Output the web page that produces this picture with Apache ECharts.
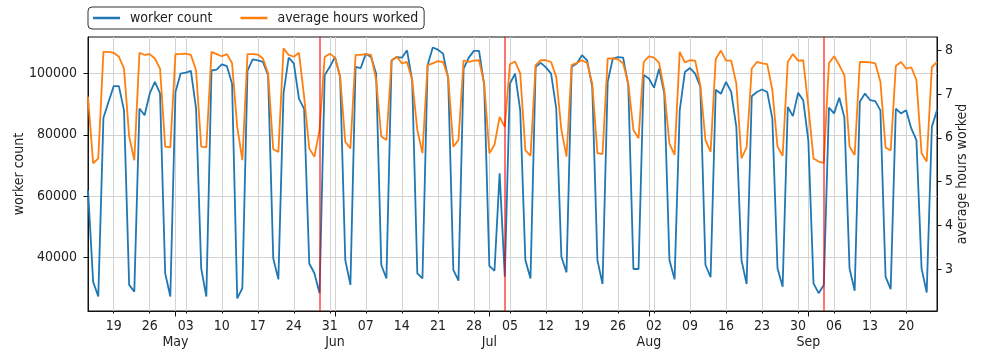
<!DOCTYPE html>
<html><head><meta charset="utf-8">
<script src="https://cdn.jsdelivr.net/npm/echarts@6/dist/echarts.min.js"></script>
<style>html,body{margin:0;padding:0;background:#fff}#c{width:984px;height:352px}</style>
</head><body><div id="c"></div>
<script>
// ---- data (daily, 2017-04-14 .. 2017-09-26) ----
const startDate = '2017-04-14';
const dayCount = 166;
const workerCount = [
 62000,32000,27200,85600,90800,95900,95900,88000,31000,28800,
 88600,86400,93500,97300,93500,34800,27200,94000,100000,100300,
 100900,88600,36400,27200,101000,101300,103000,102400,96700,26600,
 29900,101000,104600,104300,103800,99500,39700,32800,93500,105200,
 103300,91800,88500,38000,34800,28300,99500,102200,105400,98900,
 39100,31000,102200,101800,106500,105400,100000,37500,33100,104300,
 105400,105200,107600,97800,34800,33100,102700,108500,107800,106500,
 98400,35900,32400,101600,105200,107400,107400,96200,37200,35600,
 67400,33700,96700,100000,88000,39100,33100,102200,103500,102000,
 100000,88600,40200,35100,102200,103300,106000,104300,95700,39100,
 31300,97300,104900,105400,105200,96200,36200,36200,99500,98400,
 95400,101600,93500,39100,32800,88000,100500,101800,100000,95700,
 37500,33500,94700,93400,97300,94000,82600,39100,31300,92600,
 94000,94800,94000,85300,36400,30400,89100,86100,93700,91300,
 78000,31500,28300,31000,88900,87000,92100,85700,36400,29100,
 90800,93500,91300,91000,88000,33700,29600,88500,87000,88000,
 82100,78300,36400,28500,82600,88000
];
const avgHours = [
 6.94,5.42,5.53,7.96,7.96,7.94,7.85,7.58,6.03,5.49,
 7.94,7.89,7.91,7.81,7.58,5.80,5.78,7.91,7.91,7.92,
 7.89,7.54,5.80,5.78,7.96,7.91,7.86,7.91,7.70,6.25,
 5.49,7.91,7.91,7.90,7.81,7.47,5.74,5.68,8.04,7.89,
 7.85,7.94,6.94,5.76,5.57,6.18,7.85,7.92,7.83,7.39,
 5.91,5.76,7.89,7.89,7.91,7.89,7.32,6.03,5.95,7.77,
 7.85,7.70,7.73,7.32,6.18,5.65,7.66,7.70,7.75,7.73,
 7.39,5.80,5.95,7.77,7.73,7.76,7.77,7.24,5.65,5.84,
 6.48,6.25,7.68,7.74,7.47,5.72,5.59,7.66,7.77,7.77,
 7.73,7.39,6.18,5.57,7.66,7.71,7.77,7.71,7.24,5.65,
 5.63,7.81,7.81,7.79,7.70,7.24,6.18,5.99,7.73,7.86,
 7.83,7.71,7.09,5.87,5.61,7.96,7.72,7.77,7.76,7.20,
 5.95,5.68,7.80,7.99,7.76,7.76,7.24,5.53,5.78,7.58,
 7.73,7.70,7.68,7.09,5.80,5.59,7.73,7.91,7.76,7.77,
 6.71,5.53,5.46,5.43,7.70,7.86,7.66,7.43,5.80,5.61,
 7.73,7.73,7.72,7.70,7.28,5.78,5.71,7.64,7.73,7.58,
 7.61,7.32,5.65,5.46,7.61,7.73
];
const holidays = ['2017-05-29', '2017-07-04', '2017-09-04'];
const monthNames = ['Jan','Feb','Mar','Apr','May','Jun','Jul','Aug','Sep','Oct','Nov','Dec'];
const leftTicks = [40000, 60000, 80000, 100000];
const rightTicks = [3, 4, 5, 6, 7, 8];
const seriesNames = ['worker count', 'average hours worked'];

// ---- categories ----
const dates = [];
const t0 = Date.parse(startDate + 'T00:00:00Z');
for (let i = 0; i < dayCount; i++) dates.push(new Date(t0 + i * 86400000).toISOString().slice(0, 10));
const isWeek = (i) => new Date(dates[i] + 'T00:00:00Z').getUTCDay() === 3;
const isMonth = (i) => dates[i].slice(8) === '01';

const FONT = "'DejaVu Sans Condensed', 'DejaVu Sans', sans-serif";
const TXT = '#222';

const chart = echarts.init(document.getElementById('c'), null, {renderer: 'canvas'});
chart.setOption({
  animation: false,
  backgroundColor: '#fff',
  textStyle: {fontFamily: FONT},
  legend: {
    left: 88, top: 7,
    orient: 'horizontal',
    borderColor: '#333', borderWidth: 1, borderRadius: 4,
    padding: [4, 6, 4, 5],
    itemWidth: 27, itemHeight: 2.5, itemGap: 28,
    icon: 'rect',
    textStyle: {fontFamily: FONT, fontSize: 14, color: TXT, padding: [0, 0, 0, 5]},
    data: seriesNames
  },
  grid: {left: 88, right: 47, top: 37, bottom: 41, show: true, borderColor: '#111', borderWidth: 1,
         containLabel: false, outerBoundsMode: 'none'},
  xAxis: [{
    type: 'category', data: dates, boundaryGap: false, position: 'bottom',
    axisLine: {show: true, lineStyle: {color: '#111', width: 1}},
    axisTick: {show: true, interval: (i) => isWeek(i), length: 2.5, lineStyle: {color: '#111'}},
    axisLabel: {interval: (i) => isWeek(i), formatter: (v) => v.slice(8), margin: 8, fontSize: 14, color: TXT, fontFamily: FONT},
    splitLine: {show: true, interval: (i) => isWeek(i) || isMonth(i), lineStyle: {color: '#d3d3d3', width: 1}}
  }, {
    type: 'category', data: dates, boundaryGap: false, position: 'bottom',
    axisLine: {show: false},
    axisTick: {show: true, interval: (i) => isMonth(i), length: 5.5, lineStyle: {color: '#111'}},
    axisLabel: {interval: (i) => isMonth(i), formatter: (v) => monthNames[parseInt(v.slice(5, 7), 10) - 1], margin: 24, fontSize: 14, color: TXT, fontFamily: FONT},
    splitLine: {show: false}
  }],
  yAxis: [{
    type: 'value', position: 'left', min: 22480, max: 111940,
    name: 'worker count', nameLocation: 'middle', nameRotate: 90, nameGap: 62, nameMoveOverlap: false,
    nameTextStyle: {fontSize: 14, color: TXT, fontFamily: FONT},
    axisLine: {show: true, lineStyle: {color: '#111'}},
    axisTick: {show: true, length: 4.5, customValues: leftTicks, lineStyle: {color: '#111'}},
    axisLabel: {customValues: leftTicks, formatter: (v) => String(Math.round(v)), margin: 11, fontSize: 14, color: TXT, fontFamily: FONT},
    splitLine: {show: true, lineStyle: {color: '#d3d3d3', width: 1}}
  }, {
    type: 'value', position: 'right', min: 2.05, max: 8.30,
    name: 'average hours worked', nameLocation: 'middle', nameRotate: 90, nameGap: 18, nameMoveOverlap: false,
    nameTextStyle: {fontSize: 14, color: TXT, fontFamily: FONT},
    axisLine: {show: true, lineStyle: {color: '#111'}},
    axisTick: {show: true, length: 4.5, customValues: rightTicks, lineStyle: {color: '#111'}},
    axisLabel: {customValues: rightTicks, formatter: (v) => String(Math.round(v)), margin: 8, fontSize: 14, color: TXT, fontFamily: FONT},
    splitLine: {show: false}
  }],
  series: [{
    name: seriesNames[0], type: 'line', xAxisIndex: 0, yAxisIndex: 0,
    data: workerCount, showSymbol: false, symbol: 'none',
    lineStyle: {color: '#1f77b4', width: 1.8}, itemStyle: {color: '#1f77b4'},
    markLine: {
      silent: true, symbol: 'none', label: {show: false},
      lineStyle: {color: 'rgba(255,0,0,0.55)', width: 2, type: 'solid'},
      data: holidays.map(d => ({xAxis: d}))
    },
    z: 2
  }, {
    name: seriesNames[1], type: 'line', xAxisIndex: 0, yAxisIndex: 1,
    data: avgHours, showSymbol: false, symbol: 'none',
    lineStyle: {color: '#ff7f0e', width: 1.8}, itemStyle: {color: '#ff7f0e'},
    z: 3
  }]
});
</script></body></html>
